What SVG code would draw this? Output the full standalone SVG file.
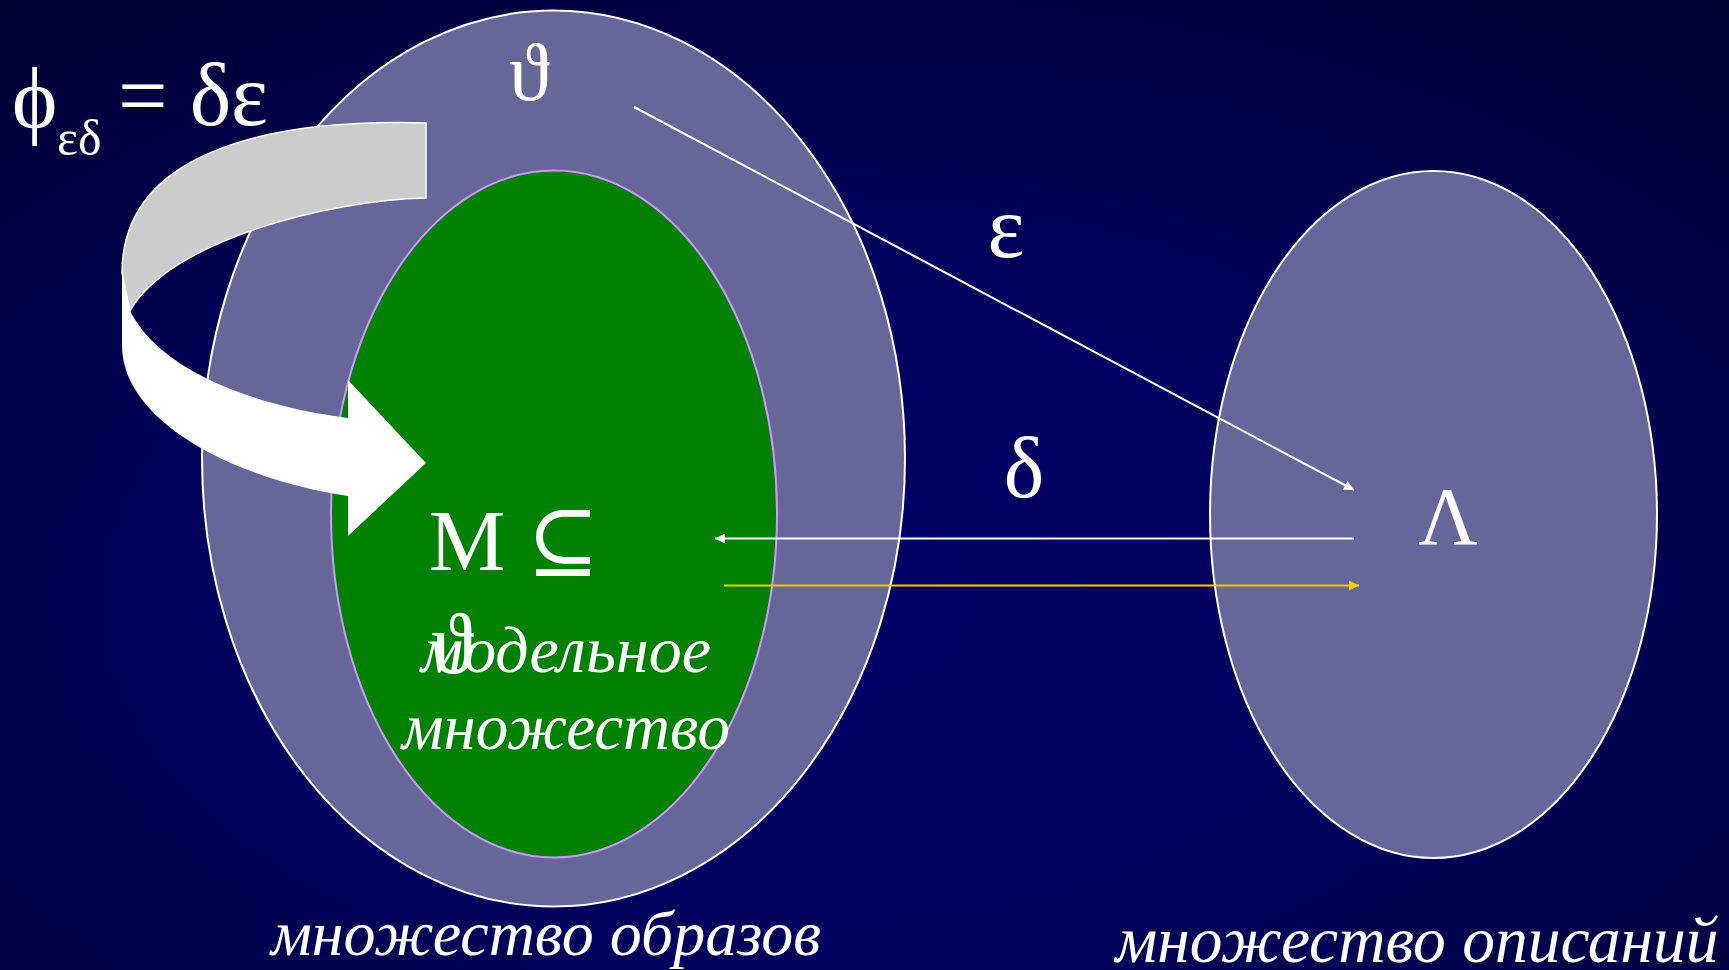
<svg xmlns="http://www.w3.org/2000/svg" width="1729" height="970" viewBox="0 0 1729 970">
<defs>
<radialGradient id="bg" cx="0.5" cy="0.62" r="0.8" fx="0.45" fy="0.62">
<stop offset="0" stop-color="#000066"/>
<stop offset="0.45" stop-color="#00005c"/>
<stop offset="1" stop-color="#000030"/>
</radialGradient>
<marker id="ahW" viewBox="0 0 10 10" refX="10" refY="5" markerWidth="14" markerHeight="10" markerUnits="userSpaceOnUse" orient="auto">
<path d="M0,0 L10,5 L0,10 z" fill="#ffffff"/>
</marker>
<marker id="ahY" viewBox="0 0 10 10" refX="10" refY="5" markerWidth="14" markerHeight="10" markerUnits="userSpaceOnUse" orient="auto">
<path d="M0,0 L10,5 L0,10 z" fill="#ffcc00"/>
</marker>
<style>
.set{fill:#666699;stroke:#ffffff;stroke-width:2}
.model{fill:#008000;stroke:#cc99ff;stroke-width:2}
.sym{font-family:"Liberation Serif","DejaVu Serif",serif;fill:#ffffff}
.lbl{font-family:"Liberation Serif","DejaVu Serif",serif;font-style:italic;fill:#ffffff}
.conn{fill:none;stroke-width:2}
</style>
</defs>
<rect x="0" y="0" width="1729" height="970" fill="url(#bg)"/>

<g id="images-set">
<ellipse class="set" cx="553.5" cy="458.5" rx="351.5" ry="448"/>
<text class="sym" x="529" y="100" font-size="82" text-anchor="middle">ϑ</text>
</g>

<g id="model-set">
<ellipse class="model" cx="554" cy="514" rx="223" ry="343.5"/>
</g>

<g id="descriptions-set">
<ellipse class="set" cx="1433.5" cy="514.5" rx="223.5" ry="343.5"/>
<text class="sym" x="1448" y="544" font-size="82" text-anchor="middle">Λ</text>
</g>

<g id="connectors">
<line class="conn" x1="634" y1="107" x2="1354" y2="490" stroke="#ffffff" marker-end="url(#ahW)"/>
<line class="conn" x1="1354" y1="538.5" x2="715" y2="538.5" stroke="#ffffff" marker-end="url(#ahW)"/>
<line class="conn" x1="724" y1="585.5" x2="1359" y2="585.5" stroke="#ffcc00" marker-end="url(#ahY)"/>
<text class="sym" x="1006" y="257" font-size="88" text-anchor="middle">ε</text>
<text class="sym" x="1024" y="497" font-size="86" text-anchor="middle">δ</text>
</g>

<g id="composition-arrow">
<path d="M426,123 L426,198 C330,200 170,240 130,311 L122,273 C122,160 250,118 426,123 Z" fill="#cccccc" stroke="#ffffff" stroke-width="1.5"/>
<path d="M122,273 L130,311 C160,370 250,405 348,418 L348,380 L426,463 L348,536 L348,496 C230,478 122,420 122,345 Z" fill="#ffffff"/>
</g>

<g id="formula">
<text class="sym" x="12" y="127" font-size="86">ϕ</text>
<text class="sym" x="57" y="155" font-size="50">εδ</text>
<text class="sym" x="118" y="125" font-size="88">= δε</text>
</g>

<g id="model-label">
<text class="sym" x="429" y="570" font-size="86">M ⊆</text>
<text class="sym" x="431" y="673" font-size="86">ϑ</text>
<text class="lbl" x="566" y="672" font-size="66" text-anchor="middle">модельное</text>
<text class="lbl" x="566" y="749" font-size="65" text-anchor="middle">множество</text>
</g>

<text class="lbl" x="546" y="955" font-size="64" text-anchor="middle">множество образов</text>
<text class="lbl" x="1417" y="962" font-size="65.5" text-anchor="middle">множество описаний</text>
</svg>
